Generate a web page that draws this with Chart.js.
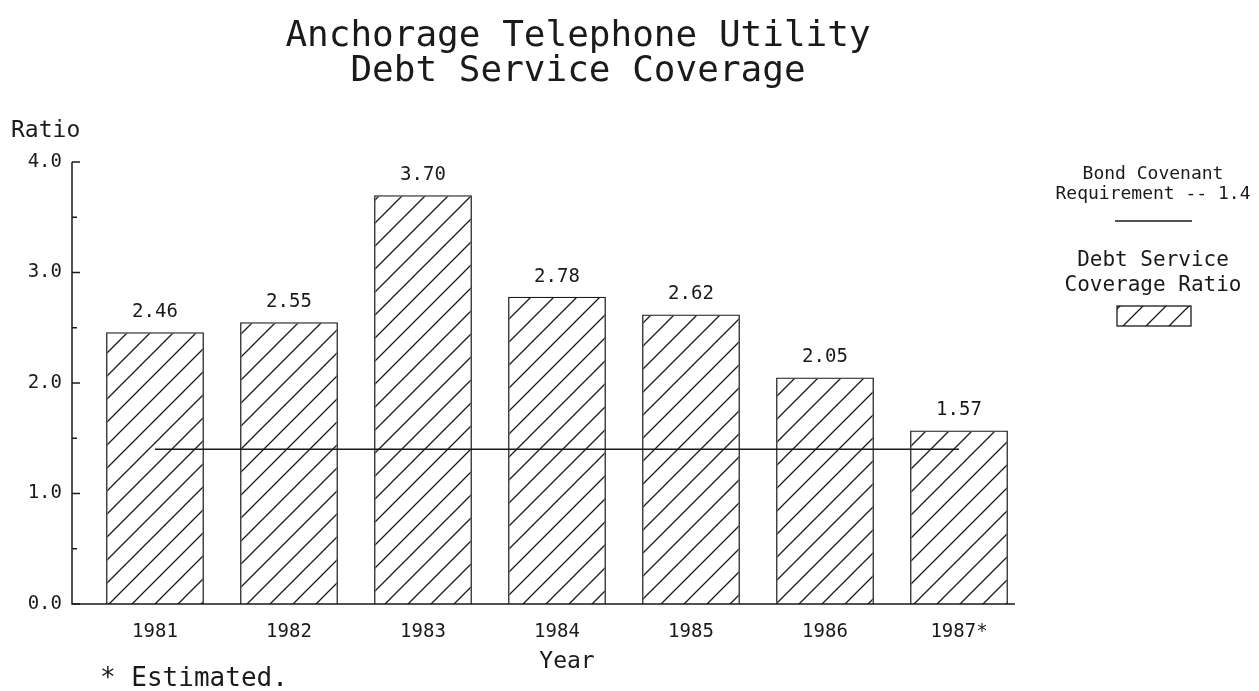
<!DOCTYPE html>
<html>
<head>
<meta charset="utf-8">
<script src="https://cdn.jsdelivr.net/npm/chart.js@4"></script>
<style>
  html, body { margin: 0; padding: 0; background: #fff; }
  #wrap { width: 1259px; height: 691px; }
</style>
</head>
<body>
<div id="wrap"><canvas id="grafico" width="1259" height="691"></canvas></div>
<script>
// Dados do gráfico
const anos = ['1981', '1982', '1983', '1984', '1985', '1986', '1987*'];
const cobertura = [2.46, 2.55, 3.70, 2.78, 2.62, 2.05, 1.57];
const exigencia = [1.4, 1.4, 1.4, 1.4, 1.4, 1.4, 1.4];
const rotulosY = ['0.0', '1.0', '2.0', '3.0', '4.0'];

const FONTE = '"DejaVu Sans Mono", "Liberation Mono", monospace';
const TINTA = '#1a1a1a';

// Hachura diagonal das barras
function criarHachura() {
  const c = document.createElement('canvas');
  const n = 23;
  c.width = n; c.height = n;
  const g = c.getContext('2d');
  g.strokeStyle = TINTA;
  g.lineWidth = 1.3;
  g.beginPath();
  g.moveTo(-1, n + 1); g.lineTo(n + 1, -1);
  g.moveTo(-3, 3); g.lineTo(3, -3);
  g.moveTo(n - 3, n + 3); g.lineTo(n + 3, n - 3);
  g.stroke();
  return g.createPattern(c, 'repeat');
}
const hachura = criarHachura();

// Textos, eixos e legenda desenhados à mão
const textosPlugin = {
  id: 'textos',
  afterDatasetsDraw(chart) {
    const ctx = chart.ctx;
    const area = chart.chartArea;
    const y = chart.scales.y;
    ctx.save();
    ctx.fillStyle = TINTA;
    ctx.strokeStyle = TINTA;

    // eixos
    const eixoX = area.left - 16;
    ctx.lineWidth = 1.5;
    ctx.beginPath();
    ctx.moveTo(eixoX, y.getPixelForValue(4));
    ctx.lineTo(eixoX, y.getPixelForValue(0));
    ctx.lineTo(area.right - 11, y.getPixelForValue(0));
    ctx.stroke();

    // marcas do eixo Y (maiores e menores)
    for (let v = 0; v <= 4; v += 0.5) {
      const py = y.getPixelForValue(v);
      const len = Number.isInteger(v) ? 8 : 5;
      ctx.beginPath();
      ctx.moveTo(eixoX, py);
      ctx.lineTo(eixoX + len, py);
      ctx.stroke();
    }

    // valores acima das barras
    ctx.font = '19px ' + FONTE;
    ctx.textAlign = 'center';
    ctx.textBaseline = 'middle';
    const meta = chart.getDatasetMeta(1);
    meta.data.forEach((bar, i) => {
      ctx.fillText(cobertura[i].toFixed(2), bar.x, bar.y - 20);
    });

    // título
    ctx.font = '36px ' + FONTE;
    ctx.fillText('Anchorage Telephone Utility', 578, 37);
    ctx.fillText('Debt Service Coverage', 578, 72);

    // títulos dos eixos
    ctx.font = '23px ' + FONTE;
    ctx.textAlign = 'left';
    ctx.fillText('Ratio', 11, 131);
    ctx.textAlign = 'center';
    ctx.fillText('Year', 567, 662);
    ctx.textAlign = 'left';
    ctx.font = '26px ' + FONTE;
    ctx.fillText('* Estimated.', 100, 679);

    // legenda
    ctx.textAlign = 'center';
    ctx.font = '18px ' + FONTE;
    ctx.fillText('Bond Covenant', 1153, 174);
    ctx.fillText('Requirement -- 1.4', 1153, 194);
    ctx.lineWidth = 1.5;
    ctx.beginPath();
    ctx.moveTo(1115, 221);
    ctx.lineTo(1192, 221);
    ctx.stroke();
    ctx.font = '21px ' + FONTE;
    ctx.fillText('Debt Service', 1153, 261);
    ctx.fillText('Coverage Ratio', 1153, 286);
    ctx.fillStyle = hachura;
    ctx.fillRect(1117, 306, 74, 20);
    ctx.lineWidth = 1.3;
    ctx.strokeRect(1117, 306, 74, 20);
    ctx.restore();
  }
};

function renderGrafico() {
  const ctx = document.getElementById('grafico').getContext('2d');
  new Chart(ctx, {
    data: {
      labels: anos,
      datasets: [{
        type: 'line',
        label: 'Bond Covenant Requirement -- 1.4',
        data: exigencia,
        borderColor: TINTA,
        borderWidth: 1.5,
        pointRadius: 0,
        fill: false,
        order: 0
      }, {
        type: 'bar',
        label: 'Debt Service Coverage Ratio',
        data: cobertura,
        backgroundColor: hachura,
        borderColor: TINTA,
        borderWidth: 1.3,
        barPercentage: 0.73,
        categoryPercentage: 1.0,
        order: 1
      }]
    },
    options: {
      responsive: false,
      animation: false,
      layout: { padding: { top: 162, right: 233, left: 0, bottom: 0 } },
      plugins: {
        legend: { display: false },
        title: { display: false },
        tooltip: { enabled: false }
      },
      scales: {
        x: {
          type: 'category',
          offset: true,
          grid: { display: false, drawTicks: false },
          border: { display: false },
          ticks: {
            color: TINTA,
            padding: 17,
            font: { family: FONTE, size: 19 }
          },
          afterFit(scale) { scale.height = 87; }
        },
        y: {
          min: 0,
          max: 4,
          grid: { display: false, drawTicks: false },
          border: { display: false },
          ticks: {
            stepSize: 1,
            color: TINTA,
            padding: 26,
            font: { family: FONTE, size: 19 },
            callback: (v) => rotulosY[v] !== undefined ? rotulosY[v] : ''
          },
          afterFit(scale) { scale.width = 88; }
        }
      }
    },
    plugins: [textosPlugin]
  });
}

renderGrafico();
</script>
</body>
</html>
